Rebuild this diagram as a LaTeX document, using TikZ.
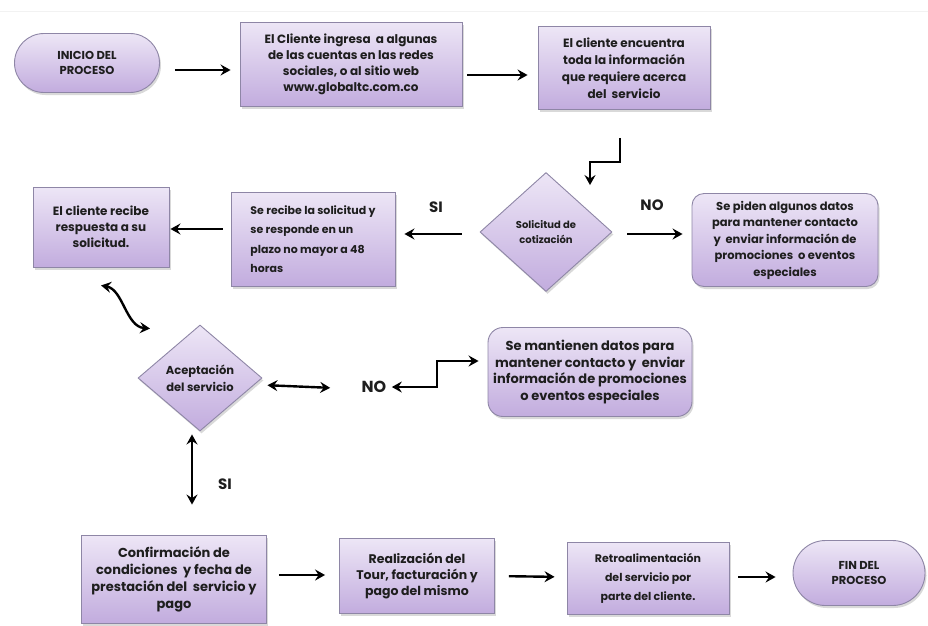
\documentclass[tikz,border=0pt]{standalone}
\usepackage{fontspec}
\setmainfont{Poppins}
\usetikzlibrary{arrows.meta, shapes.geometric, shapes.misc, shadows}
\definecolor{boxtop}{HTML}{EDE6F6}
\definecolor{boxbot}{HTML}{C2ACDE}
\definecolor{boxline}{HTML}{8E86A6}
\definecolor{ink}{HTML}{1E1E1E}

\begin{document}
\begin{tikzpicture}[x=1pt, y=-1pt,
  every node/.style={font=\bfseries\fontsize{12}{16}\selectfont, text=ink},
  base/.style={draw=boxline, line width=0.9pt, top color=boxtop, bottom color=boxbot,
    inner sep=0pt, align=center,
    drop shadow={shadow xshift=1.5pt, shadow yshift=-2.5pt, opacity=0.3}},
  proc/.style={base, rectangle},
  soft/.style={base, rectangle, rounded corners=12pt},
  pill/.style={base, rounded rectangle},
  decision/.style={base, diamond},
  flecha/.style={-{Stealth[length=10pt, width=11pt, inset=3.5pt]}, line width=2.4pt},
  flechas/.style={{Stealth[length=10pt, width=11pt, inset=3.5pt]}-{Stealth[length=10pt, width=11pt, inset=3.5pt]}, line width=2.4pt},
  rama/.style={font=\bfseries\fontsize{15}{15}\selectfont}]
  \useasboundingbox (0,0) rectangle (928,625);
  \draw[gray!10, line width=1pt] (0,11) -- (928,11);

  % Fila 1: inicio y busqueda de informacion
  \node[pill, minimum width=145pt, minimum height=59pt, font=\bfseries\fontsize{11.5}{14.5}\selectfont] (inicio) at (87,63) {INICIO DEL\\PROCESO};
  \node[proc, minimum width=222pt, minimum height=84pt] (ingreso) at (351,64)
    {El Cliente ingresa\ \ a algunas\\de las cuentas en las redes\\sociales, o al sitio web\\www.globaltc.com.co};
  \node[proc, minimum width=172pt, minimum height=83pt, font=\bfseries\fontsize{12}{17}\selectfont] (info) at (624,68)
    {El cliente encuentra\\toda la información\\que requiere acerca\\del\ \ servicio};

  % Fila 2: solicitud de cotizacion
  \node[decision, minimum width=132pt, minimum height=119pt, font=\bfseries\fontsize{10}{15}\selectfont] (cotiza) at (546,232)
    {Solicitud de\\cotización};
  \node[soft, minimum width=186pt, minimum height=93pt, font=\bfseries\fontsize{11.5}{16.5}\selectfont] (datos) at (785,240)
    {Se piden algunos datos\\para mantener contacto\\y\ \ enviar información de\\promociones\ \ o eventos\\especiales};
  \node[proc, minimum width=164pt, minimum height=94pt, align=left, font=\bfseries\fontsize{11}{19.5}\selectfont] (recibe) at (313,239)
    {Se recibe la solicitud y\\se responde en un\\plazo no mayor a 48\\horas};
  \node[proc, minimum width=136pt, minimum height=80pt] (respuesta) at (101,227)
    {El cliente recibe\\respuesta a su\\solicitud.};
  \node[rama] (si1) at (436,207) {SI};
  \node[rama] (no1) at (652,205) {NO};

  % Fila 3: aceptacion del servicio
  \node[decision, minimum width=124pt, minimum height=106pt, font=\bfseries\fontsize{11.5}{17}\selectfont] (acepta) at (200,378)
    {Aceptación\\del servicio};
  \node[rama, font=\bfseries\fontsize{16}{16}\selectfont] (no2) at (374,387) {NO};
  \node[soft, rounded corners=15pt, minimum width=204pt, minimum height=89pt, font=\bfseries\fontsize{13}{16.7}\selectfont] (mantiene) at (590,372)
    {Se mantienen datos para\\mantener contacto y\ \ enviar\\información de promociones\\o eventos especiales};
  \node[rama] (si2) at (225,484) {SI};

  % Fila 4: cierre
  \node[proc, minimum width=185pt, minimum height=88pt, font=\bfseries\fontsize{13}{17}\selectfont] (confirma) at (174,579)
    {Confirmación de\\condiciones\ \ y fecha de\\prestación del\ \ servicio y\\pago};
  \node[proc, minimum width=155pt, minimum height=75pt, font=\bfseries\fontsize{12.5}{16}\selectfont] (tour) at (417,576)
    {Realización del\\Tour, facturación y\\pago del mismo};
  \node[proc, minimum width=162pt, minimum height=72pt, font=\bfseries\fontsize{11}{19}\selectfont] (retro) at (648,578)
    {Retroalimentación\\del servicio por\\parte del cliente.};
  \node[pill, minimum width=132pt, minimum height=65pt, font=\bfseries\fontsize{11.5}{14.5}\selectfont] (fin) at (859,573) {FIN DEL\\PROCESO};

  % Conectores
  \draw[flecha, shorten <=15pt, shorten >=9pt] ([yshift=-7pt]inicio.east) -- ([yshift=-6pt]ingreso.west);
  \draw[flecha, shorten <=5pt, shorten >=10pt] ([yshift=-11pt]ingreso.east) -- ([yshift=-7pt]info.west);
  \draw[flecha] ([xshift=-4pt, yshift=-28pt]info.south) -- ++(0,24) -| ([xshift=44pt, yshift=-13pt]cotiza.north);
  \draw[flecha, shorten <=15pt, shorten >=9pt] ([yshift=-2pt]cotiza.east) -- ([yshift=6pt]datos.west);
  \draw[flecha, shorten <=18pt, shorten >=9pt] ([yshift=-2pt]cotiza.west) -- ([yshift=5pt]recibe.east);
  \draw[flecha, shorten <=8pt, shorten >=1pt] ([yshift=10pt]recibe.west) -- ([yshift=-2pt]respuesta.east);
  \draw[flechas] ([yshift=-18pt]respuesta.south) .. controls +(22,4) and +(-24,-2) .. ([xshift=-50pt, yshift=-4pt]acepta.north);
  \draw[flechas, shorten <=5pt, shorten >=28pt] ([yshift=-7pt]acepta.east) -- ([yshift=-2pt]no2.west);
  \draw[flechas, shorten <=2pt, shorten >=9pt] (no2.east) -- ++(47,0) |- ([yshift=11pt]mantiene.west);
  \draw[flechas, shorten <=3pt, shorten >=30pt] ([xshift=-8pt]acepta.south) -- ([xshift=-8pt]acepta.south |- confirma.north);
  \draw[flecha, shorten <=12pt, shorten >=14pt] ([yshift=4pt]confirma.east) -- ([yshift=1pt]tour.west);
  \draw[flecha, shorten <=14pt, shorten >=12pt] (tour.east) -- ([yshift=1pt]retro.west);
  \draw[flecha, shorten <=9pt, shorten >=17pt] ([yshift=1pt]retro.east) -- ([yshift=-4pt]fin.west);
\end{tikzpicture}
\end{document}
